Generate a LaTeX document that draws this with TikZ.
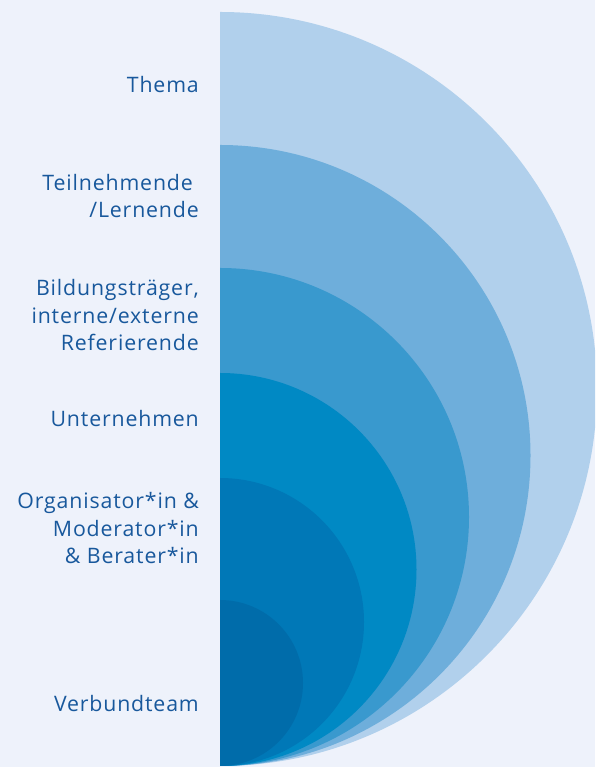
\documentclass[tikz,border=0pt]{standalone}
\usepackage{fontspec}
\setmainfont{Open Sans}[LetterSpace=4]
\definecolor{bgc}{RGB}{238,242,251}
\definecolor{txtc}{RGB}{24,88,156}
\definecolor{ringa}{RGB}{177,208,236}
\definecolor{ringb}{RGB}{110,174,219}
\definecolor{ringc}{RGB}{57,153,206}
\definecolor{ringd}{RGB}{0,137,196}
\definecolor{ringe}{RGB}{0,120,183}
\definecolor{ringf}{RGB}{0,108,170}
\begin{document}
\begin{tikzpicture}[x=1pt,y=1pt,
  lbl/.style={anchor=base east,align=right,text=txtc,inner sep=0pt,
    font=\fontsize{21.3}{27.6}\selectfont}]
\useasboundingbox (0,0) rectangle (595,767);
\fill[bgc] (0,0) rectangle (595,767);
\begin{scope}
\clip (0,0) rectangle (595,767);
\fill[ringa] (220,1) arc[start angle=-90,end angle=90,radius=377] -- cycle;
\fill[ringb] (220,1) arc[start angle=-90,end angle=90,radius=310.5] -- cycle;
\fill[ringc] (220,1) arc[start angle=-90,end angle=90,radius=249] -- cycle;
\fill[ringd] (220,1) arc[start angle=-90,end angle=90,radius=196.5] -- cycle;
\fill[ringe] (220,1) arc[start angle=-90,end angle=90,radius=144] -- cycle;
\fill[ringf] (220,1) arc[start angle=-90,end angle=90,radius=83] -- cycle;
\end{scope}
\node[lbl] (thema) at (199,674) {Thema};
\node[lbl] (teil) at (199,549) {Teilnehmende\hspace*{6pt}\\/Lernende};
\node[lbl] (bild) at (199,416) {Bildungsträger,\\interne/externe\\Referierende};
\node[lbl] (unter) at (199,340) {Unternehmen};
\node[lbl] (orga) at (199,203) {Organisator*in \&\\Moderator*in\\\& Berater*in};
\node[lbl] (verb) at (199,55) {Verbundteam};
\end{tikzpicture}
\end{document}
